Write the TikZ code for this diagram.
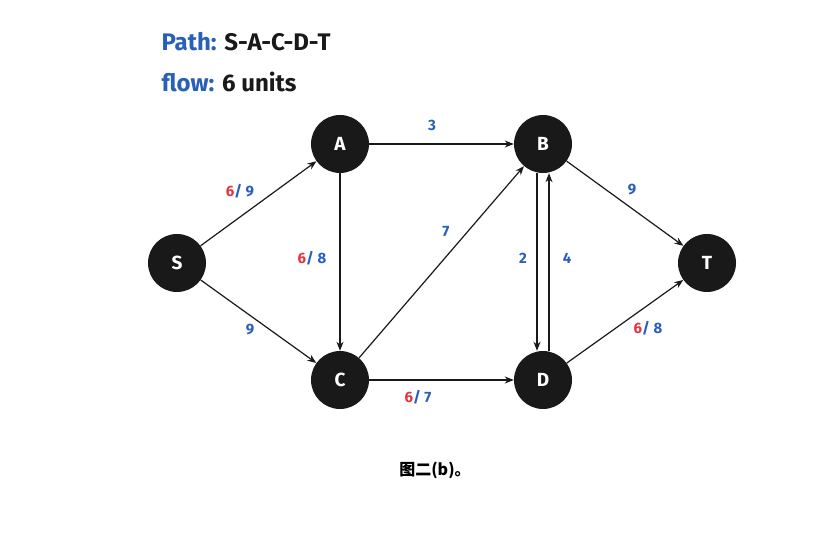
\documentclass[tikz,border=0pt]{standalone}
\usepackage{fontspec}
\setmainfont{Fira Sans}
\newfontfamily\cjk{Noto Sans CJK SC}
\usetikzlibrary{arrows.meta}
\definecolor{fb}{RGB}{40,95,185}
\definecolor{fr}{RGB}{230,50,65}
\definecolor{nd}{RGB}{25,25,25}
\begin{document}
\begin{tikzpicture}[x=1pt,y=-1pt,
  vert/.style={circle,fill=nd,minimum size=58pt,inner sep=0pt,text=white,font=\fontsize{19}{19}\selectfont\bfseries},
  edge/.style={-{Stealth[length=9pt,width=7pt]},line width=1.2pt,draw=nd},
  lab/.style={font=\fontsize{15}{15}\selectfont\bfseries,text=fb}]
\useasboundingbox (0,0) rectangle (818,534);
\node[anchor=west,font=\fontsize{24}{24}\selectfont\bfseries] (h1) at (158,42) {\textcolor{fb}{Path:} \textcolor{nd}{S-A-C-D-T}};
\node[anchor=west,font=\fontsize{24}{24}\selectfont\bfseries] (h2) at (158,82) {\textcolor{fb}{flow:} \textcolor{nd}{6 units}};
\node[vert] (S) at (177,263) {S};
\node[vert] (A) at (340,144) {A};
\node[vert] (B) at (543,144) {B};
\node[vert] (C) at (340,380) {C};
\node[vert] (D) at (543,380) {D};
\node[vert] (T) at (707,263) {T};
\draw[edge] (S) -- (A);
\draw[edge] (S) -- (C);
\draw[edge] (A) -- (B);
\draw[edge] (A) -- (C);
\draw[edge] (C) -- (B);
\draw[edge] (C) -- (D);
\draw[edge] ([xshift=-6pt]B.south) -- ([xshift=-6pt]D.north);
\draw[edge] ([xshift=6pt]D.north) -- ([xshift=6pt]B.south);
\draw[edge] (B) -- (T);
\draw[edge] (D) -- (T);
\node[lab] (l1) at (432,125) {3};
\node[lab] (l2) at (240,191) {\textcolor{fr}{6}/ 9};
\node[lab] (l3) at (250,330) {9};
\node[lab] (l4) at (312,258) {\textcolor{fr}{6}/ 8};
\node[lab] (l5) at (446,232) {7};
\node[lab] (l6) at (523,258) {2};
\node[lab] (l7) at (567,258) {4};
\node[lab] (l8) at (632,190) {9};
\node[lab] (l9) at (648,328) {\textcolor{fr}{6}/ 8};
\node[lab] (l10) at (418,397) {\textcolor{fr}{6}/ 7};
\node[font=\cjk\fontsize{16}{16}\selectfont\bfseries] (cap) at (435,470) {图二(b)。};
\end{tikzpicture}
\end{document}
